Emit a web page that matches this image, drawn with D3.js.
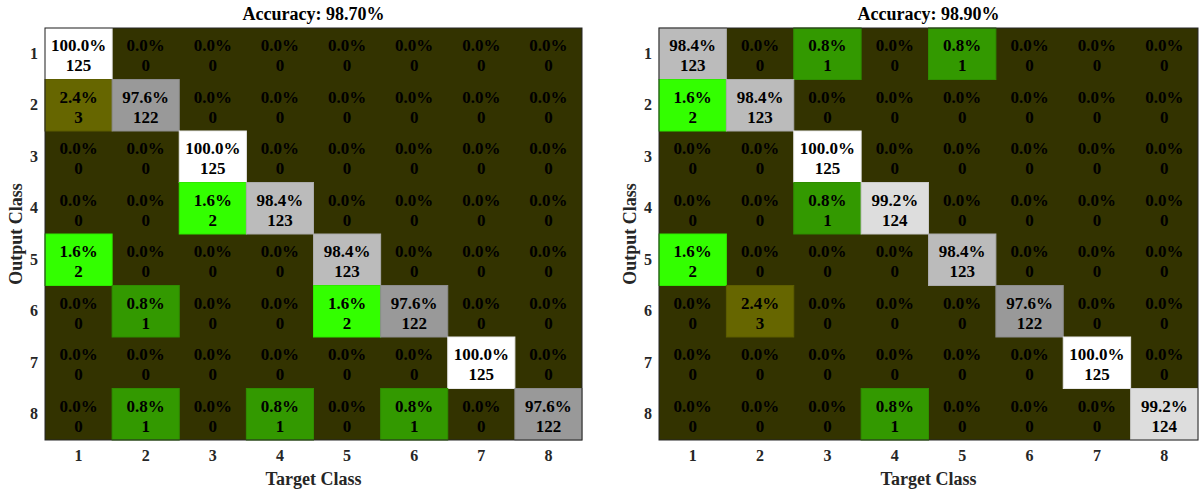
<!DOCTYPE html>
<html>
<head>
<meta charset="utf-8">
<script src="https://cdn.jsdelivr.net/npm/d3@7"></script>
<style>
  html, body { margin: 0; padding: 0; background: #fff; }
  svg { display: block; }
  text { font-family: "Liberation Serif", "Times New Roman", serif; font-weight: bold; }
</style>
</head>
<body>
<svg id="chart" width="1204" height="492"></svg>
<script>
// Class labels shared by both confusion matrices
const classes = ["1", "2", "3", "4", "5", "6", "7", "8"];

// Counts: rows = output class, columns = target class
const countsA = [
  [125, 0, 0, 0, 0, 0, 0, 0],
  [3, 122, 0, 0, 0, 0, 0, 0],
  [0, 0, 125, 0, 0, 0, 0, 0],
  [0, 0, 2, 123, 0, 0, 0, 0],
  [2, 0, 0, 0, 123, 0, 0, 0],
  [0, 1, 0, 0, 2, 122, 0, 0],
  [0, 0, 0, 0, 0, 0, 125, 0],
  [0, 1, 0, 1, 0, 1, 0, 122]
];

const countsB = [
  [123, 0, 1, 0, 1, 0, 0, 0],
  [2, 123, 0, 0, 0, 0, 0, 0],
  [0, 0, 125, 0, 0, 0, 0, 0],
  [0, 0, 1, 124, 0, 0, 0, 0],
  [2, 0, 0, 0, 123, 0, 0, 0],
  [0, 3, 0, 0, 0, 122, 0, 0],
  [0, 0, 0, 0, 0, 0, 125, 0],
  [0, 0, 0, 1, 0, 0, 0, 124]
];

// Colour for off-diagonal (misclassified) counts
const offDiagCounts = [0, 1, 2, 3];
const offDiagColors = ["#333300", "#339900", "#33ff00", "#666600"];
// Grey ramp for diagonal (correct) counts
const diagDomain = [122, 125];
const diagRange = ["#999999", "#ffffff"];

const svg = d3.select("#chart");

function drawMatrix(counts, box) {
  const g = svg.append("g");
  const x = d3.scaleBand().domain(classes).range([box.x0, box.x1]);
  const y = d3.scaleBand().domain(classes).range([box.y0, box.y1]);
  const offColor = d3.scaleOrdinal().domain(offDiagCounts).range(offDiagColors);
  const diagColor = d3.scaleLinear().domain(diagDomain).range(diagRange).clamp(true);

  const cells = [];
  counts.forEach((row, i) => {
    const total = d3.sum(row);
    row.forEach((v, j) => {
      cells.push({ r: classes[i], c: classes[j], v, pct: total ? v / total * 100 : 0, diag: i === j });
    });
  });
  const correct = d3.sum(counts, (row, i) => row[i]);
  const all = d3.sum(counts, row => d3.sum(row));

  const fill = d => d.diag ? diagColor(d.v) : offColor(d.v);

  // background in the zero-count colour, so empty cells show no seams
  g.append("rect")
    .attr("x", box.x0).attr("y", box.y0)
    .attr("width", box.x1 - box.x0).attr("height", box.y1 - box.y0)
    .attr("fill", offColor(0));

  // non-empty cells
  g.selectAll("rect.cell")
    .data(cells.filter(d => d.v > 0))
    .join("rect")
    .attr("class", "cell")
    .attr("x", d => x(d.c))
    .attr("y", d => y(d.r))
    .attr("width", x.bandwidth())
    .attr("height", y.bandwidth())
    .attr("fill", fill)
    .attr("stroke", d => d3.color(fill(d)).darker(0.25))
    .attr("stroke-width", 1);

  const txt = g.selectAll("g.lab").data(cells).join("g").attr("class", "lab");
  txt.append("text")
    .attr("x", d => x(d.c) + x.bandwidth() / 2)
    .attr("y", d => y(d.r) + y.bandwidth() * 0.455)
    .attr("text-anchor", "middle")
    .attr("font-size", 17)
    .attr("fill", "#000")
    .text(d => d.pct.toFixed(1) + "%");
  txt.append("text")
    .attr("x", d => x(d.c) + x.bandwidth() / 2)
    .attr("y", d => y(d.r) + y.bandwidth() * 0.84)
    .attr("text-anchor", "middle")
    .attr("font-size", 17)
    .attr("fill", "#000")
    .text(d => d.v);

  // frame
  g.append("rect")
    .attr("x", box.x0).attr("y", box.y0)
    .attr("width", box.x1 - box.x0).attr("height", box.y1 - box.y0)
    .attr("fill", "none").attr("stroke", "#262626").attr("stroke-width", 1);

  // axes (tick labels only)
  const xAxis = g.append("g")
    .attr("transform", `translate(0,${box.y1})`)
    .call(d3.axisBottom(x).tickSize(0).tickPadding(10));
  const yAxis = g.append("g")
    .attr("transform", `translate(${box.x0},0)`)
    .call(d3.axisLeft(y).tickSize(0).tickPadding(7));
  [xAxis, yAxis].forEach(a => {
    a.select(".domain").remove();
    a.selectAll("text")
      .attr("font-family", "Liberation Serif, Times New Roman, serif")
      .attr("font-weight", "bold")
      .attr("font-size", 16)
      .attr("fill", "#262626");
  });

  // title
  g.append("text")
    .attr("x", (box.x0 + box.x1) / 2)
    .attr("y", box.y0 - 8)
    .attr("text-anchor", "middle")
    .attr("font-size", 18)
    .attr("fill", "#000")
    .text("Accuracy: " + (correct / all * 100).toFixed(2) + "%");

  // axis titles
  g.append("text")
    .attr("x", (box.x0 + box.x1) / 2)
    .attr("y", box.y1 + 45)
    .attr("text-anchor", "middle")
    .attr("font-size", 18)
    .attr("fill", "#262626")
    .text("Target Class");
  g.append("text")
    .attr("transform", `translate(${box.x0 - 23},${(box.y0 + box.y1) / 2}) rotate(-90)`)
    .attr("text-anchor", "middle")
    .attr("font-size", 18)
    .attr("fill", "#262626")
    .text("Output Class");
}

drawMatrix(countsA, { x0: 45, x1: 582, y0: 28, y1: 440 });
drawMatrix(countsB, { x0: 659, x1: 1198, y0: 28, y1: 440 });
</script>
</body>
</html>
